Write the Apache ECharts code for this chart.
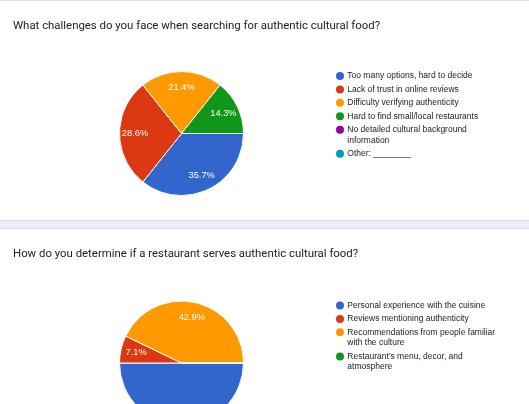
<!DOCTYPE html>
<html>
<head>
<meta charset="utf-8">
<script src="https://cdn.jsdelivr.net/npm/echarts@6/dist/echarts.min.js"></script>
<style>
html,body{margin:0;padding:0;background:#fff;}
#c{width:529px;height:404px;}
</style>
</head>
<body>
<div id="c"></div>
<script>
const title1 = "What challenges do you face when searching for authentic cultural food?";
const categories1 = ["Too many options, hard to decide", "Lack of trust in online reviews", "Difficulty verifying authenticity", "Hard to find small/local restaurants", "No detailed cultural background information", "Other: ________"];
const values1 = [5, 4, 3, 2, 0, 0];
const colors1 = ["#3366cc", "#dc3912", "#ff9900", "#109618", "#990099", "#0099c6"];

const title2 = "How do you determine if a restaurant serves authentic cultural food?";
const categories2 = ["Personal experience with the cuisine", "Reviews mentioning authenticity", "Recommendations from people familiar with the culture", "Restaurant's menu, decor, and atmosphere"];
const values2 = [7, 1, 6, 0];
const colors2 = ["#3366cc", "#dc3912", "#ff9900", "#109618"];

const LEG_FONT = 8.5, LEG_LH = 10.7, LEG_W = 152, DOT = 8, DOT_GAP = 3.3;
const FONT_FAMILY = '"Liberation Sans", Arial, sans-serif';

const chart = echarts.init(document.getElementById('c'), null, {renderer: 'canvas'});

const mctx = document.createElement('canvas').getContext('2d');
mctx.font = LEG_FONT + 'px ' + FONT_FAMILY;
function wrapLines(name, maxW) {
  const words = name.split(' ');
  const lines = [];
  let cur = '';
  for (const w of words) {
    const t = cur ? cur + ' ' + w : w;
    if (cur && mctx.measureText(t).width > maxW) { lines.push(cur); cur = w; }
    else cur = t;
  }
  lines.push(cur);
  return lines;
}

function mk(cats, vals) { return cats.map((n, i) => ({name: n, value: vals[i]})); }

function pieSeries(name, cats, vals, colors, center) {
  return [{
    name: name,
    type: 'pie',
    center: center,
    radius: [0, 62],
    startAngle: 0,
    clockwise: true,
    percentPrecision: 1,
    color: colors,
    avoidLabelOverlap: false,
    itemStyle: {borderColor: '#fff', borderWidth: 1},
    label: {show: false},
    labelLine: {show: false},
    emphasis: {disabled: true},
    silent: true,
    data: mk(cats, vals)
  }, {
    name: name + ' labels',
    type: 'pie',
    center: center,
    radius: [25, 62],
    startAngle: 0,
    clockwise: true,
    percentPrecision: 1,
    avoidLabelOverlap: false,
    itemStyle: {color: 'rgba(0,0,0,0)', borderWidth: 0},
    label: {
      show: true, position: 'inside', color: '#fff',
      fontFamily: FONT_FAMILY, fontSize: 9.3,
      formatter: p => p.value > 0 ? p.percent.toFixed(1) + '%' : ''
    },
    labelLine: {show: false},
    emphasis: {disabled: true},
    silent: true,
    legendHoverLink: false,
    data: mk(cats, vals)
  }];
}

function legend(cats, top, colors) {
  const base = {fontFamily: FONT_FAMILY, fontSize: LEG_FONT, color: '#222', lineHeight: LEG_LH};
  const rich = {
    s: Object.assign({}, base),
    g: {width: DOT_GAP, height: DOT, lineHeight: LEG_LH},
    i: {width: DOT + DOT_GAP, height: DOT, lineHeight: LEG_LH}
  };
  colors.forEach((c, k) => {
    rich['c' + k] = {width: DOT, height: DOT, borderRadius: DOT / 2, backgroundColor: c, lineHeight: LEG_LH};
  });
  return {
    orient: 'vertical',
    left: 326,
    top: top,
    itemWidth: 0,
    itemHeight: 0,
    itemGap: 2.7,
    selectedMode: false,
    itemStyle: {opacity: 0, borderWidth: 0},
    data: cats.map((n, i) => ({name: n, itemStyle: {color: colors[i], opacity: 0, borderWidth: 0}})),
    formatter: function (name) {
      const k = cats.indexOf(name);
      const lines = wrapLines(name, LEG_W);
      return lines.map((l, j) => (j === 0 ? '{c' + k + '|}{g|}' : '{i|}') + '{s|' + l + '}').join('\n');
    },
    textStyle: Object.assign({}, base, {rich: rich})
  };
}

const option = {
  animation: false,
  backgroundColor: '#fff',
  title: [
    {text: title1, left: 8, top: 15.5, textStyle: {fontFamily: 'Roboto', fontSize: 11.4, fontWeight: 'normal', color: '#202124'}},
    {text: title2, left: 8, top: 244, textStyle: {fontFamily: 'Roboto', fontSize: 11.4, fontWeight: 'normal', color: '#202124'}}
  ],
  legend: [
    legend(categories1, 65.7, colors1),
    legend(categories2, 295.2, colors2)
  ],
  graphic: [
    {type: 'rect', shape: {x: 0, y: 0, width: 529, height: 1}, style: {fill: '#e0e0e0'}, silent: true},
    {type: 'rect', shape: {x: 0, y: 220, width: 529, height: 9}, style: {fill: '#f0ebf8'}, silent: true},
    {type: 'rect', shape: {x: 0, y: 220, width: 529, height: 1}, style: {fill: '#dadce0'}, silent: true},
    {type: 'rect', shape: {x: 0, y: 228, width: 529, height: 1}, style: {fill: '#dadce0'}, silent: true}
  ],
  series: [].concat(
    pieSeries('q1', categories1, values1, colors1, [181.5, 133.5]),
    pieSeries('q2', categories2, values2, colors2, [181.5, 363])
  )
};
chart.setOption(option);
</script>
</body>
</html>
